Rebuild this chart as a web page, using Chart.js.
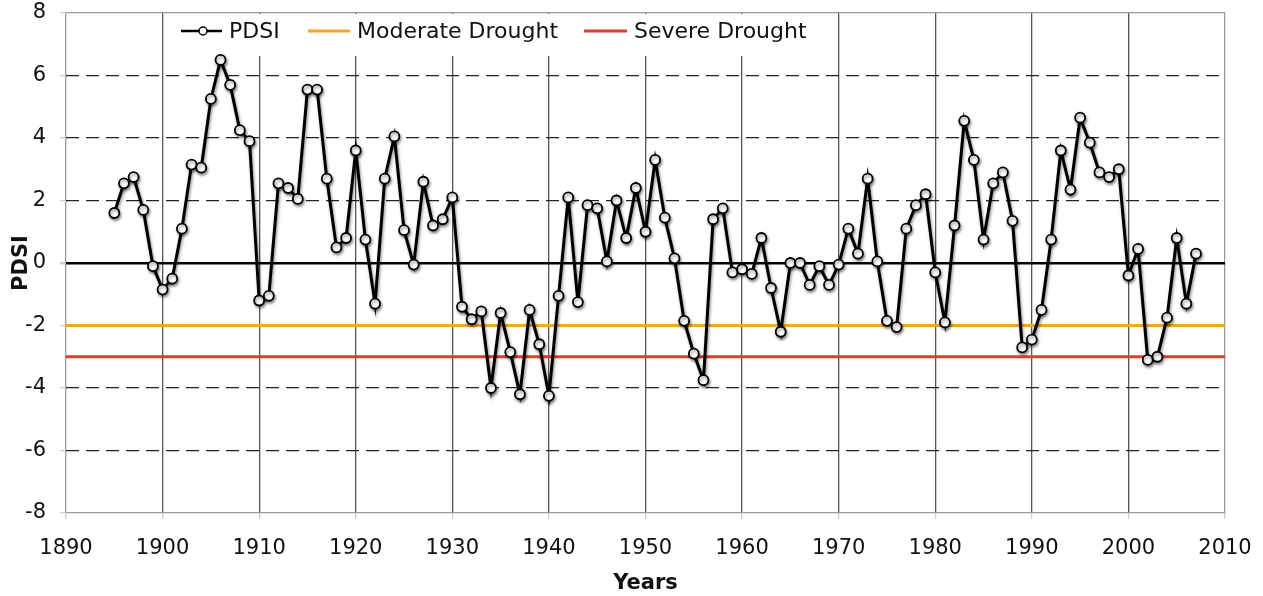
<!DOCTYPE html>
<html>
<head>
<meta charset="utf-8">
<title>PDSI</title>
<script src="https://cdn.jsdelivr.net/npm/chart.js@4/dist/chart.umd.min.js"></script>
<style>
  html, body { margin: 0; padding: 0; background: #fff; }
  #wrap { width: 1263px; height: 596px; }
</style>
</head>
<body>
<div id="wrap"><canvas id="pdsiChart" width="1263" height="596"></canvas></div>
<script>
// years and PDSI values
const years = [
  1895, 1896, 1897, 1898, 1899, 1900, 1901, 1902, 1903, 1904,
  1905, 1906, 1907, 1908, 1909, 1910, 1911, 1912, 1913, 1914,
  1915, 1916, 1917, 1918, 1919, 1920, 1921, 1922, 1923, 1924,
  1925, 1926, 1927, 1928, 1929, 1930, 1931, 1932, 1933, 1934,
  1935, 1936, 1937, 1938, 1939, 1940, 1941, 1942, 1943, 1944,
  1945, 1946, 1947, 1948, 1949, 1950, 1951, 1952, 1953, 1954,
  1955, 1956, 1957, 1958, 1959, 1960, 1961, 1962, 1963, 1964,
  1965, 1966, 1967, 1968, 1969, 1970, 1971, 1972, 1973, 1974,
  1975, 1976, 1977, 1978, 1979, 1980, 1981, 1982, 1983, 1984,
  1985, 1986, 1987, 1988, 1989, 1990, 1991, 1992, 1993, 1994,
  1995, 1996, 1997, 1998, 1999, 2000, 2001, 2002, 2003, 2004,
  2005, 2006, 2007
];
const pdsi = [
  1.6, 2.55, 2.75, 1.7, -0.1, -0.85, -0.5, 1.1, 3.15, 3.05,
  5.25, 6.5, 5.7, 4.25, 3.9, -1.2, -1.05, 2.55, 2.4, 2.05,
  5.55, 5.55, 2.7, 0.5, 0.8, 3.6, 0.75, -1.3, 2.7, 4.05,
  1.05, -0.05, 2.6, 1.2, 1.4, 2.1, -1.4, -1.8, -1.55, -4.0,
  -1.6, -2.85, -4.2, -1.5, -2.6, -4.25, -1.05, 2.1, -1.25, 1.85,
  1.75, 0.05, 2.0, 0.8, 2.4, 1.0, 3.3, 1.45, 0.15, -1.85,
  -2.9, -3.75, 1.4, 1.75, -0.3, -0.2, -0.35, 0.8, -0.8, -2.2,
  0.0, 0.0, -0.7, -0.1, -0.7, -0.05, 1.1, 0.3, 2.7, 0.05,
  -1.85, -2.05, 1.1, 1.85, 2.2, -0.3, -1.9, 1.2, 4.55, 3.3,
  0.75, 2.55, 2.9, 1.35, -2.7, -2.45, -1.5, 0.75, 3.6, 2.35,
  4.65, 3.85, 2.9, 2.75, 3.0, -0.4, 0.45, -3.1, -3.0, -1.75,
  0.8, -1.3, 0.3
];

// drought thresholds, drawn across the whole axis
const thresholdYears = [1890, 2010];
const moderateDrought = -2;
const severeDrought = -3;

// axis ticks
const xTicks = [1890, 1900, 1910, 1920, 1930, 1940, 1950, 1960, 1970, 1980, 1990, 2000, 2010];
const yTicks = [8, 6, 4, 2, 0, -2, -4, -6, -8];

const FONT = '"DejaVu Sans", Verdana, sans-serif';

// legend drawn inside the plot, white box behind it
const insideLegend = {
  id: 'insideLegend',
  beforeDatasetsDraw(chart) {
    const c = chart.ctx;
    const area = chart.chartArea;
    c.save();
    c.fillStyle = '#fff';
    c.fillRect(170, area.top + 1, 645, 42);
    c.font = '22px ' + FONT;
    c.textBaseline = 'middle';
    const y = area.top + 18;
    const items = [
      { ds: chart.data.datasets[0], x: 181, w: 41, marker: true },
      { ds: chart.data.datasets[1], x: 308, w: 42 },
      { ds: chart.data.datasets[2], x: 584, w: 43 }
    ];
    items.forEach(it => {
      c.strokeStyle = it.ds.borderColor;
      c.lineWidth = it.marker ? 2.5 : 3;
      c.beginPath();
      c.moveTo(it.x, y);
      c.lineTo(it.x + it.w, y);
      c.stroke();
      if (it.marker) {
        c.beginPath();
        c.arc(it.x + 22, y, 4, 0, Math.PI * 2);
        c.fillStyle = '#fff';
        c.fill();
        c.lineWidth = 1.5;
        c.stroke();
      }
      c.fillStyle = '#111';
      c.fillText(it.ds.label, it.x + it.w + 7, y + 1);
    });
    c.restore();
  }
};

// soft shadow under the PDSI line and markers
const pointShadow = {
  id: 'pointShadow',
  beforeDatasetDraw(chart, args) {
    if (args.index !== 0) return;
    const c = chart.ctx;
    c.save();
    c.shadowColor = 'rgba(0,0,0,0.45)';
    c.shadowBlur = 3;
    c.shadowOffsetX = 1;
    c.shadowOffsetY = 2;
  },
  afterDatasetDraw(chart, args) {
    if (args.index !== 0) return;
    chart.ctx.restore();
  }
};

const ctx = document.getElementById('pdsiChart').getContext('2d');
const pdsiChart = new Chart(ctx, {
  type: 'line',
  data: {
    datasets: [
      {
        label: 'PDSI',
        data: years.map((yr, i) => ({ x: yr, y: pdsi[i] })),
        borderColor: '#000',
        borderWidth: 3,
        pointRadius: 5,
        pointBorderWidth: 1.8,
        pointBackgroundColor: '#fff',
        pointBorderColor: '#000',
        tension: 0,
        order: 0
      },
      {
        label: 'Moderate Drought',
        data: thresholdYears.map(yr => ({ x: yr, y: moderateDrought })),
        borderColor: '#f6a623',
        borderWidth: 3,
        pointRadius: 0,
        order: 1
      },
      {
        label: 'Severe Drought',
        data: thresholdYears.map(yr => ({ x: yr, y: severeDrought })),
        borderColor: '#e8392c',
        borderWidth: 3,
        pointRadius: 0,
        order: 2
      }
    ]
  },
  options: {
    responsive: false,
    animation: false,
    layout: { padding: { top: 13, right: 38, left: 0, bottom: 0 } },
    plugins: {
      legend: { display: false },
      tooltip: { enabled: false }
    },
    scales: {
      x: {
        type: 'linear',
        min: 1890,
        max: 2010,
        afterBuildTicks: s => { s.ticks = xTicks.map(v => ({ value: v })); },
        afterFit: s => {
          s.height = 83;
          s.paddingLeft = 0;
          s.paddingRight = 0;
        },
        ticks: {
          color: '#111',
          font: { family: FONT, size: 21 },
          padding: 17,
          maxRotation: 0,
          callback: v => String(v)
        },
        grid: {
          color: c => (c.tick && (c.tick.value === 1890 || c.tick.value === 2010)) ? '#9a9a9a' : '#555',
          lineWidth: 1.3,
          tickLength: 6,
          tickColor: '#ccc'
        },
        border: { display: false },
        title: {
          display: true,
          text: 'Years',
          color: '#111',
          font: { family: FONT, size: 21, weight: 'bold' },
          padding: { top: 4, bottom: 0 }
        }
      },
      y: {
        min: -8,
        max: 8,
        afterBuildTicks: s => { s.ticks = yTicks.map(v => ({ value: v })); },
        afterFit: s => {
          s.width = 66;
          s.paddingTop = 0;
          s.paddingBottom = 0;
        },
        ticks: {
          color: '#111',
          font: { family: FONT, size: 21 },
          padding: 14
        },
        grid: {
          color: c => {
            if (!c.tick) return '#999';
            if (c.tick.value === 0) return '#000';
            if (Math.abs(c.tick.value) === 8) return '#9a9a9a';
            return '#222';
          },
          lineWidth: c => (c.tick && c.tick.value === 0) ? 2.5 : 1.3,
          tickLength: 6,
          tickColor: '#ccc'
        },
        border: {
          display: false,
          dash: c => (c.tick && c.tick.value !== 0 && Math.abs(c.tick.value) !== 8) ? [13, 7] : []
        },
        title: {
          display: true,
          text: 'PDSI',
          color: '#111',
          font: { family: FONT, size: 21, weight: 'bold' },
          padding: { top: 9, bottom: 0 }
        }
      }
    }
  },
  plugins: [insideLegend, pointShadow]
});
</script>
</body>
</html>
